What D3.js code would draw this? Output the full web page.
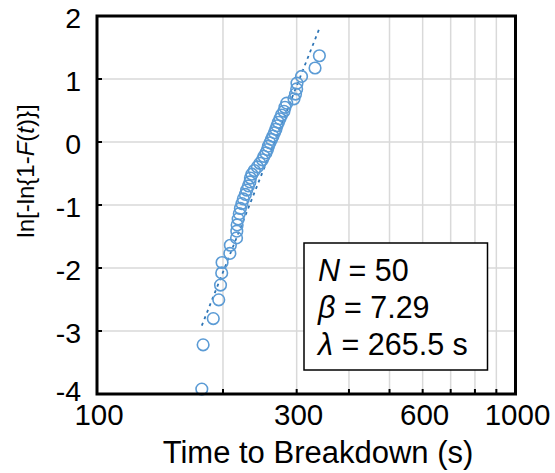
<!DOCTYPE html>
<html>
<head>
<meta charset="utf-8">
<script src="https://cdn.jsdelivr.net/npm/d3@7"></script>
<style>
  html, body { margin: 0; padding: 0; background: #fff; }
  svg { display: block; font-family: "Liberation Sans", Arial, sans-serif; }
</style>
</head>
<body>
<svg id="chart" width="555" height="473"></svg>
<script>
// ---- data ----
const breakdownTimes = [178.0,179.3,189.6,195.4,197.3,198.6,199.0,207.7,208.3,215.5,215.8,216.2,217.4,218.8,220.1,221.9,223.7,226.2,227.8,230.0,231.9,232.6,234.5,237.7,241.7,245.0,248.4,250.5,253.3,255.4,256.8,258.9,261.1,263.3,265.5,267.6,269.1,271.3,273.6,275.9,279.7,281.3,284.0,295.6,298.1,300.0,300.5,308.1,331.9,339.9];
const weibullY = [-3.922,-3.219,-2.803,-2.505,-2.271,-2.078,-1.913,-1.768,-1.639,-1.522,-1.415,-1.316,-1.223,-1.137,-1.055,-0.977,-0.903,-0.832,-0.763,-0.697,-0.634,-0.572,-0.511,-0.453,-0.395,-0.338,-0.283,-0.228,-0.173,-0.120,-0.066,-0.013,0.041,0.094,0.148,0.202,0.257,0.313,0.369,0.428,0.488,0.551,0.617,0.686,0.761,0.843,0.934,1.041,1.175,1.369];
const fitBeta = 7.29;
const fitLambda = 265.5;
const sampleCount = 50;
const xTickLabels = [100, 300, 600, 1000];
const xGridValues = [200, 300, 400, 500, 600, 700, 800, 900];
const yTickValues = [-4, -3, -2, -1, 0, 1, 2];

// ---- layout ----
const svg = d3.select("#chart");
const L = 97, R = 515.5, T = 16, B = 394;
const x = d3.scaleLog().domain([100, 1000]).range([L, R]);
const y = d3.scaleLinear().domain([-4, 2]).range([B, T]);

// grid
svg.append("g").selectAll("line").data(xGridValues).join("line")
  .attr("x1", d => x(d)).attr("x2", d => x(d)).attr("y1", T).attr("y2", B)
  .attr("stroke", "#d9d9d9").attr("stroke-width", 1.5);
svg.append("g").selectAll("line").data(yTickValues.filter(v => v > -4 && v < 2)).join("line")
  .attr("x1", L).attr("x2", R).attr("y1", d => y(d)).attr("y2", d => y(d))
  .attr("stroke", "#d9d9d9").attr("stroke-width", 1.5);

// inward ticks
svg.append("g").selectAll("line").data(xGridValues).join("line")
  .attr("x1", d => x(d)).attr("x2", d => x(d)).attr("y1", B).attr("y2", B - 5)
  .attr("stroke", "#000").attr("stroke-width", 2);
svg.append("g").selectAll("line").data(yTickValues.filter(v => v > -4 && v < 2)).join("line")
  .attr("x1", L).attr("x2", L + 5).attr("y1", d => y(d)).attr("y2", d => y(d))
  .attr("stroke", "#000").attr("stroke-width", 2);

// trendline
const tMin = d3.min(breakdownTimes), tMax = d3.max(breakdownTimes);
const fitPts = [tMin, tMax].map(t => [t, fitBeta * (Math.log(t) - Math.log(fitLambda))]);
svg.append("path").datum(fitPts)
  .attr("d", d3.line().x(d => x(d[0])).y(d => y(d[1])))
  .attr("fill", "none").attr("stroke", "#2e75b6").attr("stroke-width", 1.8)
  .attr("stroke-dasharray", "3,4");

// points
svg.append("g").selectAll("circle").data(breakdownTimes.map((t, i) => [t, weibullY[i]])).join("circle")
  .attr("cx", d => x(d[0])).attr("cy", d => y(d[1])).attr("r", 5.8)
  .attr("fill", "none").attr("stroke", "#5b9bd5").attr("stroke-width", 1.6);

// frame
svg.append("rect").attr("x", L).attr("y", T).attr("width", R - L).attr("height", B - T)
  .attr("fill", "none").attr("stroke", "#000").attr("stroke-width", 3);

// tick labels
svg.append("g").selectAll("text").data(xTickLabels).join("text")
  .attr("x", d => x(d) + 2).attr("y", 425).attr("text-anchor", "middle")
  .attr("font-size", 29.5).text(d => d);
svg.append("g").selectAll("text").data(yTickValues).join("text")
  .attr("x", 81).attr("y", d => Math.min(y(d) + 12, 401)).attr("text-anchor", "end")
  .attr("font-size", 28.5).text(d => d);

// axis titles
svg.append("text").attr("x", 318).attr("y", 463).attr("text-anchor", "middle")
  .attr("font-size", 31).text("Time to Breakdown (s)");
const yt = svg.append("text").attr("transform", "translate(34,171) rotate(-90)")
  .attr("text-anchor", "middle").attr("font-size", 24);
yt.append("tspan").text("ln[-ln{1-");
yt.append("tspan").attr("font-style", "italic").text("F");
yt.append("tspan").text("(");
yt.append("tspan").attr("font-style", "italic").text("t");
yt.append("tspan").text(")}]");

// legend box
svg.append("rect").attr("x", 304).attr("y", 243).attr("width", 183.5).attr("height", 127)
  .attr("fill", "#fff").attr("stroke", "#000").attr("stroke-width", 1.5);
const legendLines = [
  ["N", " = " + sampleCount],
  ["\u03b2", " = " + fitBeta.toFixed(2)],
  ["\u03bb", " = " + fitLambda.toFixed(1) + " s"]
];
legendLines.forEach((ln, i) => {
  const t = svg.append("text").attr("x", 318).attr("y", 281 + i * 37).attr("font-size", 30.5);
  t.append("tspan").attr("font-style", "italic").text(ln[0]);
  t.append("tspan").text(ln[1]);
});
</script>
</body>
</html>
